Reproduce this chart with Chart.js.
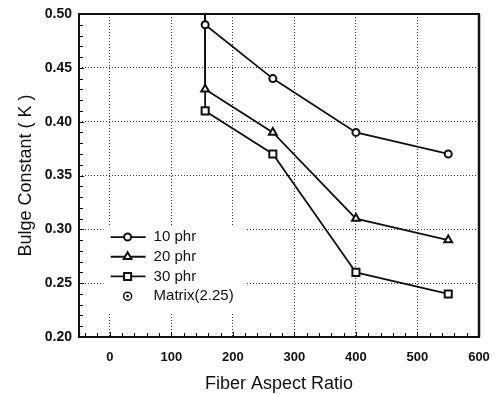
<!DOCTYPE html>
<html>
<head>
<meta charset="utf-8">
<script src="https://cdn.jsdelivr.net/npm/chart.js@4/dist/chart.umd.min.js"></script>
<style>html,body{margin:0;padding:0;background:#fff}</style>
</head>
<body>
<canvas id="c" width="499" height="395"></canvas>
<script>
// values; first point runs off the top toward the matrix value
var aspectRatio = [150, 155, 265, 400, 550];
var k10 = [2.25, 0.49, 0.44, 0.39, 0.37];
var k20 = [2.25, 0.43, 0.39, 0.31, 0.29];
var k30 = [2.25, 0.41, 0.37, 0.26, 0.24];
var matrixX = [150];
var matrixK = [2.25];
var seriesNames = ["10 phr", "20 phr", "30 phr", "Matrix(2.25)"];
var xTicks = [0, 100, 200, 300, 400, 500, 600];
var yTicks = [0.20, 0.25, 0.30, 0.35, 0.40, 0.45, 0.50];

var FONT = "'Liberation Sans', Arial, sans-serif";

function pts(xs, ys) {
	return xs.map(function (x, i) { return {x: x, y: ys[i]}; });
}

function line(label, data, style, r) {
	return {
		label: label,
		data: data,
		borderColor: "#111",
		borderWidth: 1.8,
		pointStyle: style,
		pointRadius: r,
		pointBorderWidth: 2,
		pointBackgroundColor: "#fff",
		pointBorderColor: "#111",
		showLine: true,
		clip: 0
	};
}

var frame = {
	id: "frame",
	afterDatasetsDraw: function (chart) {
		var ctx = chart.ctx, a = chart.chartArea;
		var xs = chart.scales.x, ys = chart.scales.y;
		ctx.save();
		ctx.strokeStyle = "#111";
		ctx.lineWidth = 1;
		ctx.beginPath();
		// minor ticks pointing inward
		for (var v = -40; v <= 600; v += 20) {
			var px = Math.round(xs.getPixelForValue(v)) + 0.5;
			var len = v % 100 === 0 ? 5 : 4;
			ctx.moveTo(px, a.bottom);
			ctx.lineTo(px, a.bottom - len);
		}
		for (var i = 20; i <= 50; i++) {
			var py = Math.round(ys.getPixelForValue(i / 100)) + 0.5;
			var l2 = i % 5 === 0 ? 5 : 4;
			ctx.moveTo(a.left, py);
			ctx.lineTo(a.left + l2, py);
		}
		ctx.stroke();
		ctx.lineWidth = 2;
		ctx.strokeRect(a.left, a.top, a.right - a.left, a.bottom - a.top);
		ctx.lineWidth = 2.5;
		ctx.beginPath();
		ctx.moveTo(a.right, a.top);
		ctx.lineTo(a.right, a.bottom);
		ctx.stroke();

		// legend box inside the plot
		var lx = xs.getPixelForValue(-10), ly = ys.getPixelForValue(0.304);
		ctx.fillStyle = "#fff";
		ctx.fillRect(lx, ly, 142, 87);
		ctx.font = "15px " + FONT;
		ctx.textBaseline = "middle";
		chart.data.datasets.forEach(function (ds, k) {
			var y = ly + 12 + k * 19.7;
			var mx = lx + 24;
			ctx.strokeStyle = "#111";
			if (ds.showLine) {
				ctx.lineWidth = 1.8;
				ctx.beginPath();
				ctx.moveTo(lx + 7, y);
				ctx.lineTo(lx + 42, y);
				ctx.stroke();
				ctx.fillStyle = "#fff";
				ctx.lineWidth = ds.pointBorderWidth;
				Chart.helpers.drawPoint(ctx, {
					pointStyle: ds.pointStyle,
					radius: ds.pointRadius,
					borderWidth: ds.pointBorderWidth
				}, mx, y);
			} else {
				// dotted-circle marker of the matrix value
				ctx.lineWidth = 1.5;
				ctx.beginPath();
				ctx.arc(mx, y, 4, 0, Math.PI * 2);
				ctx.stroke();
				ctx.fillStyle = "#111";
				ctx.beginPath();
				ctx.arc(mx, y, 1.3, 0, Math.PI * 2);
				ctx.fill();
			}
			ctx.fillStyle = "#111";
			ctx.fillText(ds.label, lx + 50, y);
		});
		ctx.restore();
	}
};

new Chart(document.getElementById("c"), {
	type: "scatter",
	data: {
		datasets: [
			line(seriesNames[0], pts(aspectRatio, k10), "circle", 3.5),
			line(seriesNames[1], pts(aspectRatio, k20), "triangle", 4.5),
			line(seriesNames[2], pts(aspectRatio, k30), "rect", 5),
			{
				label: seriesNames[3],
				data: pts(matrixX, matrixK),
				pointStyle: "circle",
				pointRadius: 4,
				pointBorderWidth: 1.5,
				pointBackgroundColor: "#fff",
				pointBorderColor: "#111",
				showLine: false,
				clip: 0
			}
		]
	},
	options: {
		responsive: false,
		animation: false,
		layout: {padding: {left: 0, top: 14, right: 20, bottom: 0}},
		plugins: {legend: {display: false}, tooltip: {enabled: false}},
		scales: {
			x: {
				type: "linear",
				min: -50,
				max: 600,
				afterBuildTicks: function (s) {
					s.ticks = xTicks.map(function (v) { return {value: v}; });
				},
				afterFit: function (s) {
					s.height = 58;
					s.paddingLeft = 0;
					s.paddingRight = 0;
				},
				grid: {color: "#333", lineWidth: 1, drawTicks: false},
				border: {display: false, dash: [1, 2]},
				ticks: {
					color: "#111",
					padding: 13,
					maxRotation: 0,
					font: {family: FONT, size: 13, weight: "bold"}
				},
				title: {
					display: true,
					text: "Fiber Aspect Ratio",
					color: "#111",
					padding: {top: 0, bottom: 0},
					font: {family: FONT, size: 18}
				}
			},
			y: {
				type: "linear",
				min: 0.20,
				max: 0.50,
				afterBuildTicks: function (s) {
					s.ticks = yTicks.map(function (v) { return {value: v}; });
				},
				afterFit: function (s) {
					s.width = 79;
					s.paddingTop = 0;
					s.paddingBottom = 0;
				},
				grid: {color: "#333", lineWidth: 1, drawTicks: false},
				border: {display: false, dash: [1, 2]},
				ticks: {
					color: "#111",
					padding: 7,
					callback: function (v) { return v.toFixed(2); },
					font: {family: FONT, size: 14, weight: "bold"}
				},
				title: {
					display: true,
					text: "Bulge Constant ( K )",
					color: "#111",
					padding: {top: 15, bottom: 0},
					font: {family: FONT, size: 18}
				}
			}
		}
	},
	plugins: [frame]
});
</script>
</body>
</html>
